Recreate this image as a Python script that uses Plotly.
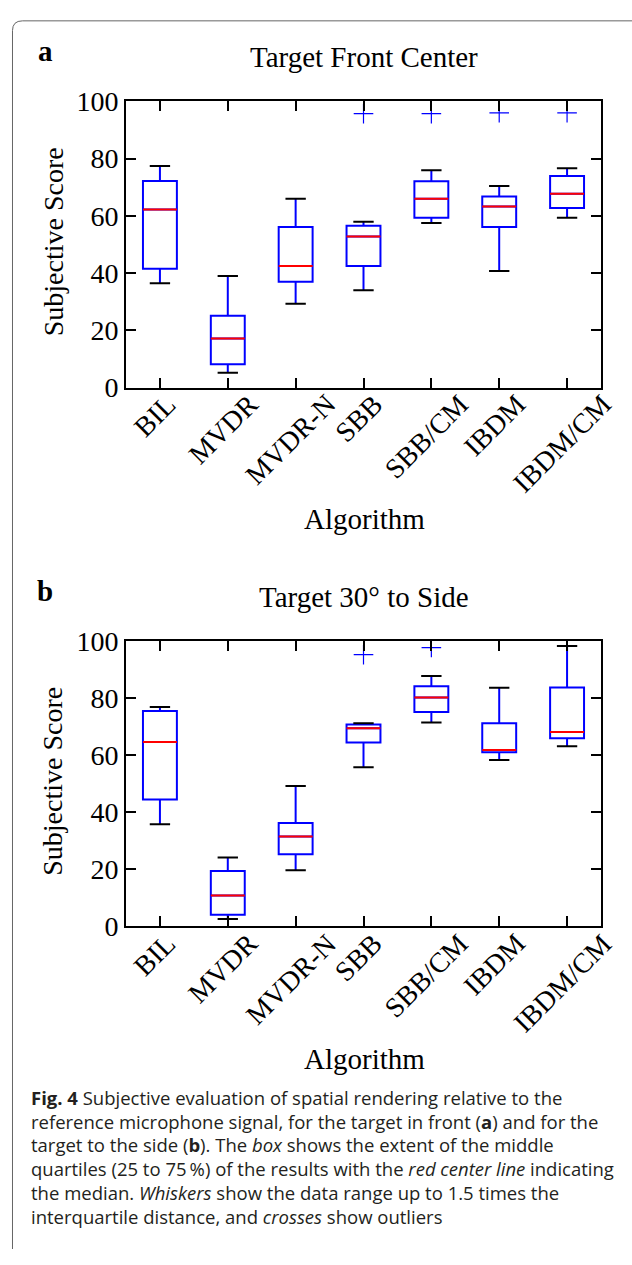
import plotly.graph_objects as go

# ---------------- data ----------------
categories = ["BIL", "MVDR", "MVDR-N", "SBB", "SBB/CM", "IBDM", "IBDM/CM"]

# Panel a: Target Front Center
lower_a = [36.5, 5.2, 29.3, 34.0, 57.5, 40.7, 59.3]
q1_a = [41.5, 8.2, 37.0, 42.5, 59.3, 56.1, 62.7]
median_a = [62.2, 17.2, 42.5, 52.8, 66.0, 63.3, 67.7]
q3_a = [72.2, 25.1, 56.1, 56.5, 72.1, 66.8, 73.9]
upper_a = [77.4, 39.0, 66.0, 57.9, 75.9, 70.4, 76.6]
outlier_cat_a = ["SBB", "SBB/CM", "IBDM", "IBDM/CM"]
outlier_val_a = [95.7, 95.7, 96.0, 96.0]

# Panel b: Target 30° to Side
lower_b = [35.8, 2.6, 19.7, 55.8, 71.4, 58.3, 63.1]
q1_b = [44.5, 4.1, 25.3, 64.4, 75.1, 61.0, 65.9]
median_b = [64.6, 10.8, 31.5, 69.4, 80.2, 61.8, 68.1]
q3_b = [75.5, 19.4, 36.2, 70.7, 84.1, 71.2, 83.7]
upper_b = [76.9, 24.1, 49.2, 71.2, 87.7, 83.6, 98.2]
outlier_cat_b = ["SBB", "SBB/CM"]
outlier_val_b = [95.2, 97.7]

y_ticks = [0, 20, 40, 60, 80, 100]
panel_titles = ["Target Front Center", "Target 30° to Side"]
panel_letters = ["a", "b"]
x_title = "Algorithm"
y_title = "Subjective Score"
caption_lines = [
    "<b>Fig. 4</b> Subjective evaluation of spatial rendering relative to the",
    "reference microphone signal, for the target in front (<b>a</b>) and for the",
    "target to the side (<b>b</b>). The <i>box</i> shows the extent of the middle",
    "quartiles (25 to 75\u2009%) of the results with the <i>red center line</i> indicating",
    "the median. <i>Whiskers</i> show the data range up to 1.5 times the",
    "interquartile distance, and <i>crosses</i> show outliers",
]

# ---------------- style ----------------
W, H = 632, 1265
SERIF = "Liberation Serif"
SANS = "Open Sans"
CAP_SIZE = 18.5
BLUE = "#0000ff"
RED = "#ff0000"
BOX_W = 0.5
CAP_W = 0.3
LW = 2


def py(px):
    return 1 - px / H


fig = go.Figure()

panels = [
    dict(lower=lower_a, q1=q1_a, med=median_a, q3=q3_a, upper=upper_a,
         oc=outlier_cat_a, ov=outlier_val_a, xa="x", ya="y"),
    dict(lower=lower_b, q1=q1_b, med=median_b, q3=q3_b, upper=upper_b,
         oc=outlier_cat_b, ov=outlier_val_b, xa="x2", ya="y2"),
]

for p in panels:
    # boxes and blue whisker stems
    fig.add_trace(go.Box(
        x=categories, q1=p["q1"], median=p["med"], q3=p["q3"],
        lowerfence=p["lower"], upperfence=p["upper"],
        width=BOX_W, whiskerwidth=0, line=dict(color=BLUE, width=LW),
        fillcolor="rgba(0,0,0,0)", xaxis=p["xa"], yaxis=p["ya"],
        hoverinfo="skip", showlegend=False, boxpoints=False))
    # red median lines
    fig.add_trace(go.Box(
        x=categories, q1=p["med"], median=p["med"], q3=p["med"],
        lowerfence=p["med"], upperfence=p["med"],
        width=BOX_W, whiskerwidth=0, line=dict(color=RED, width=LW),
        fillcolor="rgba(0,0,0,0)", xaxis=p["xa"], yaxis=p["ya"],
        hoverinfo="skip", showlegend=False, boxpoints=False))
    # black whisker caps
    for key in ("lower", "upper"):
        fig.add_trace(go.Box(
            x=categories, q1=p[key], median=p[key], q3=p[key],
            lowerfence=p[key], upperfence=p[key],
            width=CAP_W, whiskerwidth=0, line=dict(color="black", width=LW),
            fillcolor="rgba(0,0,0,0)", xaxis=p["xa"], yaxis=p["ya"],
            hoverinfo="skip", showlegend=False, boxpoints=False))
    # outliers
    fig.add_trace(go.Scatter(
        x=p["oc"], y=p["ov"], mode="markers",
        marker=dict(symbol="cross-thin", size=14, line=dict(color=BLUE, width=1.2)),
        xaxis=p["xa"], yaxis=p["ya"], hoverinfo="skip", showlegend=False))

x_dom = [126 / W, 601 / W]
doms = [[py(382), py(88.5)], [py(934.3), py(641.7)]]

axis_common = dict(showline=True, linecolor="black", linewidth=2, mirror="ticks",
                   ticks="inside", ticklen=10, tickwidth=1.5, tickcolor="black",
                   showgrid=False, zeroline=False)

layout = dict(
    width=W, height=H, margin=dict(l=0, r=0, t=0, b=0),
    paper_bgcolor="white", plot_bgcolor="white", boxmode="overlay",
    showlegend=False,
)
for i, suffix in enumerate(["", "2"]):
    layout["xaxis" + suffix] = dict(
        axis_common, domain=x_dom, anchor="y" + suffix, type="category",
        categoryorder="array", categoryarray=categories,
        range=[-0.5, len(categories) - 0.5], showticklabels=False)
    layout["yaxis" + suffix] = dict(
        axis_common, domain=doms[i], anchor="x" + suffix, range=[0, 100],
        tickvals=y_ticks, ticktext=[str(v) for v in y_ticks],
        tickfont=dict(family=SERIF, size=28, color="black"))
fig.update_layout(**layout)

ann = []
offset = 553
for i in range(2):
    o = offset * i
    xr = "x" if i == 0 else "x2"
    ann.append(dict(text="<b>%s</b>" % panel_letters[i], x=45 / W, y=py(37 + o),
                    xref="paper", yref="paper", showarrow=False, xanchor="center",
                    yanchor="middle", font=dict(family=SERIF, size=29, color="black")))
    ann.append(dict(text=panel_titles[i], x=364 / W, y=py(43.5 + o),
                    xref="paper", yref="paper", showarrow=False, xanchor="center",
                    yanchor="middle", font=dict(family=SERIF, size=29, color="black")))
    ann.append(dict(text=x_title, x=364 / W, y=py(517 + o),
                    xref="paper", yref="paper", showarrow=False, xanchor="center",
                    yanchor="middle", font=dict(family=SERIF, size=29, color="black")))
    ann.append(dict(text=y_title, x=53 / W, y=py(233 + o), textangle=-90,
                    xref="paper", yref="paper", showarrow=False, xanchor="center",
                    yanchor="middle", font=dict(family=SERIF, size=28, color="black")))
    for c in categories:
        ann.append(dict(text=c, x=c, y=py(380 + o), xref=xr, yref="paper",
                        textangle=-45, showarrow=False, xanchor="center",
                        yanchor="top", xshift=-5,
                        font=dict(family=SERIF, size=28, color="black")))

baselines = [1116.5, 1141, 1165.5, 1190, 1214.5, 1239]
for line, b in zip(caption_lines, baselines):
    ann.append(dict(text=line, x=29 / W, y=py(b - 0.388 * CAP_SIZE), xref="paper",
                    yref="paper", showarrow=False, xanchor="left", yanchor="middle",
                    font=dict(family=SANS, size=CAP_SIZE, color="#231f20")))

fig.update_layout(annotations=ann)

# rounded frame (left and top edges visible in the crop)
x0, yt, r = 12.5 / W, py(6), 10
fig.add_shape(type="path", xref="paper", yref="paper",
              path="M %f,%f L %f,%f Q %f,%f %f,%f L %f,%f" % (
                  x0, 0.0, x0, py(6 + r), x0, yt, x0 + r / W, yt, 1.0, yt),
              line=dict(color="#666666", width=1))

fig.write_html("out.html", config={"displayModeBar": False},
               post_script="document.body.style.margin='0';"
                           "document.documentElement.style.overflow='hidden';")
